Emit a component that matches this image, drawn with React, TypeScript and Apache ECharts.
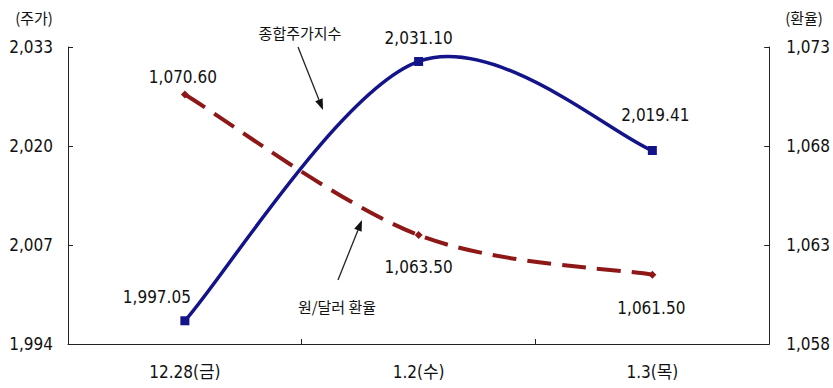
import React, { useEffect, useRef } from "react";
import * as echarts from "echarts";

const categories = ["12.28(금)", "1.2(수)", "1.3(목)"];
const kospi = [1997.05, 2031.1, 2019.41];
const usdkrw = [1070.6, 1063.5, 1061.5];
const leftTicks = [1994, 2007, 2020, 2033];
const rightTicks = [1058, 1063, 1068, 1073];
const leftTitle = "(주가)";
const rightTitle = "(환율)";
const kospiName = "종합주가지수";
const fxName = "원/달러 환율";

const NUM_FONT = "'Liberation Sans Narrow', 'DejaVu Sans Condensed', 'Noto Sans CJK KR', sans-serif";
const KR_FONT = "'Noto Sans CJK KR', sans-serif";

const BLUE = "#14148a";
const RED = "#8e1717";

const kospiLabelOffsets = [[-28, -24], [0, -23], [3, -35]];
const fxLabelOffsets = [[-2, -18], [0, 32], [-1, 33]];

const fmt = (v: number, d = 0) =>
  v.toLocaleString("en-US", { minimumFractionDigits: d, maximumFractionDigits: d });

function arrow(x1: number, y1: number, x2: number, y2: number) {
  const dx = x2 - x1, dy = y2 - y1;
  const L = Math.sqrt(dx * dx + dy * dy);
  const ux = dx / L, uy = dy / L;
  const hl = 11, hw = 4;
  const bx = x2 - ux * hl, by = y2 - uy * hl;
  const px = -uy * hw, py = ux * hw;
  return [
    {
      type: "line",
      shape: { x1, y1, x2: bx, y2: by },
      style: { stroke: "#222", lineWidth: 1.3 },
    },
    {
      type: "polygon",
      shape: { points: [[x2, y2], [bx + px, by + py], [bx - px, by - py]] },
      style: { fill: "#111" },
    },
  ];
}

// Excel-style smoothed curve (Catmull-Rom, 1/6 tangents) drawn through axis coordinates
function smoothCurve(values: number[], stroke: string, lineWidth: number, lineDash?: number[]) {
  return (params: any, api: any) => {
    if (params.dataIndex !== 0) return null;
    const pts = values.map((v, i) => api.coord([i, v]));
    const n = pts.length;
    let d = `M${pts[0][0]},${pts[0][1]}`;
    for (let i = 0; i < n - 1; i++) {
      const p0 = pts[Math.max(i - 1, 0)];
      const p1 = pts[i];
      const p2 = pts[i + 1];
      const p3 = pts[Math.min(i + 2, n - 1)];
      const c1x = p1[0] + (p2[0] - p0[0]) / 6;
      const c1y = p1[1] + (p2[1] - p0[1]) / 6;
      const c2x = p2[0] - (p3[0] - p1[0]) / 6;
      const c2y = p2[1] - (p3[1] - p1[1]) / 6;
      d += ` C${c1x},${c1y} ${c2x},${c2y} ${p2[0]},${p2[1]}`;
    }
    return {
      type: "path",
      shape: { pathData: d },
      style: { fill: "none", stroke, lineWidth, lineDash, lineCap: "butt" },
    };
  };
}

export default function App() {
  const ref = useRef<HTMLDivElement>(null);
  useEffect(() => {
    if (!ref.current) return;
    const chart = echarts.init(ref.current, null, { renderer: "svg" });
    const axisText = { fontFamily: NUM_FONT, fontSize: 17, color: "#111" };
    chart.setOption({
      animation: false,
      backgroundColor: "#fff",
      grid: { left: 68, right: 61, top: 47, bottom: 44, containLabel: false },
      xAxis: {
        type: "category",
        data: categories,
        boundaryGap: true,
        axisLine: { lineStyle: { color: "#222", width: 1 } },
        axisTick: { show: true, inside: true, length: 5, lineStyle: { color: "#222" } },
        axisLabel: { ...axisText, margin: 19 },
      },
      yAxis: [
        {
          type: "value",
          min: 1994,
          max: 2033,
          position: "left",
          splitLine: { show: false },
          axisLine: { show: true, lineStyle: { color: "#222", width: 1 } },
          axisTick: { show: true, inside: true, length: 5, customValues: leftTicks, lineStyle: { color: "#222" } },
          axisLabel: { ...axisText, margin: 15, customValues: leftTicks, formatter: (v: number) => fmt(v) },
        },
        {
          type: "value",
          min: 1058,
          max: 1073,
          position: "right",
          splitLine: { show: false },
          axisLine: { show: true, lineStyle: { color: "#222", width: 1 } },
          axisTick: { show: true, inside: true, length: 5, customValues: rightTicks, lineStyle: { color: "#222" } },
          axisLabel: { ...axisText, margin: 17, customValues: rightTicks, formatter: (v: number) => fmt(v) },
        },
      ],
      series: [
        {
          name: kospiName + " curve",
          type: "custom",
          yAxisIndex: 0,
          clip: false,
          silent: true,
          renderItem: smoothCurve(kospi, BLUE, 3.5),
          data: kospi.map((v, i) => [i, v]),
          z: 3,
        },
        {
          name: fxName + " curve",
          type: "custom",
          yAxisIndex: 1,
          clip: false,
          silent: true,
          renderItem: smoothCurve(usdkrw, RED, 4, [24, 11]),
          data: usdkrw.map((v, i) => [i, v]),
          z: 2,
        },
        {
          name: kospiName,
          type: "line",
          yAxisIndex: 0,
          symbol: "rect",
          symbolSize: 9,
          lineStyle: { opacity: 0, width: 0 },
          itemStyle: { color: BLUE },
          label: { show: true, ...axisText, color: "#111" },
          data: kospi.map((v, i) => ({
            value: v,
            label: {
              position: "inside",
              offset: kospiLabelOffsets[i],
              formatter: () => fmt(v, 2),
            },
          })),
          z: 4,
        },
        {
          name: fxName,
          type: "line",
          yAxisIndex: 1,
          symbol: "diamond",
          symbolSize: 8,
          lineStyle: { opacity: 0, width: 0 },
          itemStyle: { color: RED },
          label: { show: true, ...axisText, color: "#111" },
          data: usdkrw.map((v, i) => ({
            value: v,
            label: {
              position: "inside",
              offset: fxLabelOffsets[i],
              formatter: () => fmt(v, 2),
            },
          })),
          z: 4,
        },
      ],
      graphic: [
        {
          type: "text",
          x: 34,
          y: 17,
          style: { text: leftTitle, font: `15px ${KR_FONT}`, fill: "#111", align: "center", verticalAlign: "middle" },
        },
        {
          type: "text",
          x: 804,
          y: 17,
          style: { text: rightTitle, font: `15px ${KR_FONT}`, fill: "#111", align: "center", verticalAlign: "middle" },
        },
        {
          type: "text",
          x: 300,
          y: 32,
          style: { text: kospiName, font: `15px ${KR_FONT}`, fill: "#111", align: "center", verticalAlign: "middle" },
        },
        {
          type: "text",
          x: 337,
          y: 306,
          style: { text: fxName, font: `15px ${KR_FONT}`, fill: "#111", align: "center", verticalAlign: "middle" },
        },
        ...arrow(298, 47, 323, 110),
        ...arrow(338, 280, 362, 220),
      ],
    });
    return () => chart.dispose();
  }, []);
  return <div ref={ref} style={{ width: 833, height: 388, position: "absolute", left: 0, top: 0 }} />;
}
